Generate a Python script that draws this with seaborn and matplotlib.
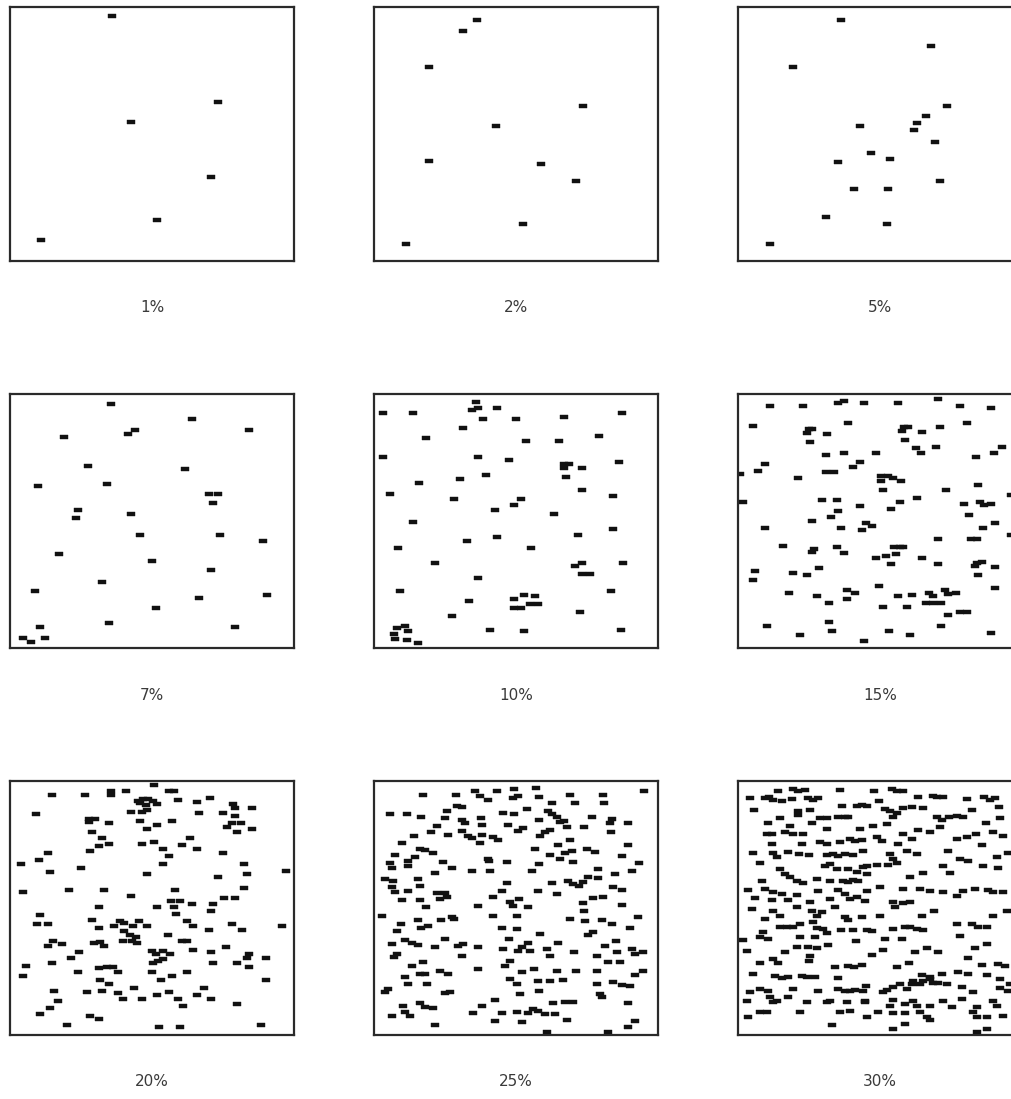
import numpy as np
import pandas as pd
import matplotlib
matplotlib.use("Agg")
import matplotlib.pyplot as plt
import seaborn as sns

# Occupied sites in a 284 x 254 field (x across, y down), one list per coverage level
sites_01 = [(102, 9), (208, 95), (121, 115), (201, 170), (147, 213), (31, 233)]

sites_02 = [(103, 13), (89, 24), (55, 60), (209, 99), (122, 119), (55, 154),
            (167, 157), (202, 174), (149, 217), (32, 237)]

sites_05 = [(103, 13), (193, 39), (55, 60), (209, 99), (188, 109), (179, 116),
            (176, 123), (122, 119), (197, 135), (133, 146), (152, 152), (100, 155),
            (202, 174), (116, 182), (150, 182), (88, 210), (149, 217), (32, 237)]

sites_07 = [(101, 10), (182, 25), (125, 36), (118, 40), (239, 36), (54, 43), (78, 72),
            (175, 75), (28, 92), (97, 90), (199, 100), (208, 100), (203, 109), (68, 116),
            (66, 124), (121, 120), (130, 141), (210, 141), (253, 147), (49, 160),
            (142, 167), (201, 176), (92, 188), (25, 197), (189, 204), (257, 201),
            (146, 214), (99, 229), (30, 233), (225, 233), (13, 244), (21, 248), (35, 244)]

sites_10 = [(9, 19), (39, 19), (102, 8), (104, 14), (98, 16), (123, 14), (109, 25),
            (142, 25), (190, 23), (248, 19), (89, 34), (52, 44), (152, 47), (185, 47),
            (225, 42), (9, 63), (104, 63), (135, 66), (190, 70), (195, 70), (190, 74),
            (208, 74), (245, 68), (112, 81), (192, 83), (86, 85), (45, 89), (16, 100),
            (208, 96), (239, 102), (80, 105), (147, 105), (140, 111), (121, 116),
            (180, 120), (39, 128), (239, 135), (123, 143), (93, 147), (204, 141),
            (24, 154), (157, 154), (61, 169), (201, 172), (208, 169), (249, 169),
            (208, 180), (216, 180), (104, 184), (26, 197), (237, 197), (95, 207),
            (140, 205), (150, 201), (161, 202), (140, 214), (147, 214), (156, 210),
            (164, 210), (206, 218), (78, 222), (31, 232), (23, 234), (20, 240),
            (34, 237), (21, 245), (33, 246), (44, 249), (116, 236), (150, 237), (247, 236)]

sites_15 = [(32, 12), (65, 12), (100, 9), (106, 7), (126, 9), (160, 9), (200, 5),
            (222, 12), (253, 14), (15, 32), (110, 29), (71, 35), (74, 35), (69, 39),
            (89, 40), (166, 33), (170, 33), (164, 37), (184, 38), (202, 33), (229, 29),
            (72, 48), (167, 46), (178, 54), (183, 59), (198, 53), (264, 53), (256, 59),
            (238, 63), (88, 61), (106, 59), (138, 59), (122, 68), (115, 73), (27, 70),
            (20, 77), (2, 80), (88, 78), (96, 78), (60, 84), (143, 82), (150, 82),
            (155, 84), (163, 87), (143, 87), (145, 96), (208, 96), (240, 91), (273, 101),
            (84, 106), (99, 106), (122, 112), (100, 117), (93, 123), (162, 108),
            (153, 115), (179, 104), (226, 110), (242, 108), (246, 111), (253, 110),
            (231, 121), (5, 108), (74, 127), (27, 134), (103, 134), (128, 129),
            (134, 132), (124, 136), (245, 134), (257, 129), (273, 141), (200, 145),
            (233, 145), (239, 145), (45, 152), (76, 155), (74, 158), (99, 153),
            (106, 159), (156, 153), (162, 153), (165, 153), (158, 160), (148, 162),
            (138, 164), (184, 164), (153, 170), (200, 170), (239, 169), (244, 168),
            (237, 172), (257, 173), (240, 181), (17, 177), (15, 186), (55, 179),
            (69, 181), (81, 174), (51, 199), (79, 202), (91, 209), (109, 196),
            (117, 199), (109, 205), (141, 192), (160, 202), (174, 201), (191, 199),
            (195, 202), (207, 196), (210, 200), (218, 199), (188, 209), (195, 209),
            (203, 209), (145, 213), (169, 213), (210, 221), (222, 218), (229, 218),
            (257, 194), (29, 232), (91, 228), (94, 237), (62, 241), (151, 237),
            (172, 241), (203, 232), (253, 239), (126, 247)]

sites_20 = [(144, 4), (42, 14), (75, 14), (101, 10), (101, 14), (116, 10), (159, 10),
            (164, 10), (168, 19), (187, 21), (200, 17), (128, 20), (133, 18), (138, 18),
            (143, 20), (147, 23), (130, 22), (136, 24), (26, 33), (121, 31), (132, 31),
            (137, 29), (189, 32), (213, 32), (223, 23), (225, 27), (242, 27), (225, 35),
            (222, 42), (231, 42), (217, 46), (227, 51), (242, 48), (79, 38), (85, 38),
            (79, 41), (99, 42), (130, 40), (147, 44), (162, 40), (137, 48), (82, 51),
            (92, 57), (89, 65), (99, 63), (80, 70), (132, 63), (144, 61), (153, 68),
            (159, 75), (172, 64), (180, 57), (187, 68), (213, 72), (38, 72), (29, 79),
            (11, 83), (40, 91), (71, 87), (153, 83), (137, 93), (208, 96), (234, 83),
            (237, 93), (276, 90), (13, 111), (59, 109), (94, 109), (121, 115), (165, 109),
            (234, 107), (214, 117), (225, 117), (161, 120), (170, 120), (182, 123),
            (203, 123), (147, 126), (89, 126), (164, 126), (166, 133), (201, 130),
            (30, 134), (27, 143), (38, 143), (82, 139), (89, 147), (104, 145), (110, 140),
            (114, 142), (123, 145), (129, 140), (137, 145), (114, 150), (120, 154),
            (126, 156), (122, 160), (127, 162), (158, 154), (172, 160), (177, 160),
            (177, 140), (183, 145), (199, 149), (222, 143), (232, 149), (272, 145),
            (38, 165), (43, 160), (52, 163), (84, 162), (90, 161), (94, 165), (113, 160),
            (142, 170), (146, 173), (153, 170), (160, 173), (183, 169), (201, 171),
            (216, 166), (239, 173), (237, 177), (256, 177), (227, 182), (239, 186),
            (203, 182), (69, 171), (61, 177), (42, 182), (16, 185), (13, 195), (68, 191),
            (89, 187), (97, 186), (103, 186), (108, 191), (90, 199), (99, 203), (143, 182),
            (148, 180), (153, 178), (142, 191), (162, 195), (177, 191), (151, 199),
            (256, 199), (44, 210), (77, 211), (92, 210), (108, 212), (113, 218),
            (124, 207), (132, 218), (147, 214), (159, 211), (168, 218), (173, 225),
            (187, 214), (194, 207), (201, 218), (227, 223), (48, 220), (40, 227),
            (30, 233), (80, 235), (89, 238), (57, 244), (149, 246), (170, 246), (251, 244)]

sites_25 = [(49, 14), (82, 14), (101, 10), (106, 15), (114, 19), (123, 10), (140, 8),
            (139, 17), (144, 15), (162, 7), (165, 16), (196, 14), (201, 22), (229, 14),
            (230, 22), (270, 10), (16, 33), (33, 33), (47, 36), (73, 30), (71, 37),
            (83, 25), (88, 26), (88, 39), (91, 42), (107, 37), (108, 44), (129, 32),
            (140, 33), (134, 44), (153, 28), (165, 39), (174, 30), (178, 22), (178, 33),
            (183, 36), (186, 41), (190, 40), (193, 46), (218, 36), (210, 46), (238, 38),
            (236, 42), (254, 42), (237, 51), (63, 45), (57, 51), (40, 55), (74, 54),
            (88, 50), (94, 55), (98, 57), (108, 54), (119, 56), (124, 59), (106, 62),
            (144, 50), (149, 47), (166, 55), (171, 51), (176, 49), (28, 62), (184, 64),
            (196, 59), (254, 64), (21, 74), (46, 68), (51, 69), (59, 72), (41, 76),
            (34, 80), (34, 85), (16, 82), (18, 87), (69, 81), (78, 87), (61, 92),
            (98, 90), (116, 90), (114, 78), (115, 80), (133, 81), (158, 90), (165, 83),
            (161, 68), (176, 74), (186, 78), (191, 72), (199, 81), (198, 70), (213, 68),
            (221, 71), (224, 88), (248, 75), (265, 82), (258, 90), (241, 93), (11, 98),
            (19, 100), (18, 106), (44, 98), (46, 105), (21, 111), (34, 110), (46, 119),
            (28, 119), (63, 112), (71, 112), (66, 118), (73, 116), (133, 102), (128, 110),
            (164, 110), (178, 102), (183, 113), (194, 100), (199, 103), (205, 105),
            (209, 101), (214, 96), (224, 97), (239, 106), (248, 109), (219, 117),
            (229, 116), (209, 122), (248, 124), (104, 125), (119, 116), (136, 121),
            (145, 118), (154, 126), (8, 135), (52, 126), (139, 125), (210, 130),
            (27, 143), (23, 150), (44, 139), (47, 147), (54, 145), (67, 139), (78, 136),
            (80, 138), (119, 135), (143, 135), (196, 138), (211, 140), (228, 139),
            (238, 143), (264, 136), (256, 147), (128, 147), (143, 148), (166, 153),
            (184, 162), (214, 154), (219, 151), (135, 158), (71, 158), (31, 159),
            (38, 162), (44, 164), (18, 163), (61, 166), (84, 165), (89, 163), (88, 175),
            (104, 166), (129, 168), (148, 166), (154, 162), (144, 170), (156, 170),
            (173, 168), (176, 175), (200, 171), (223, 175), (231, 165), (242, 160),
            (243, 171), (258, 168), (261, 173), (269, 171), (23, 173), (20, 176),
            (38, 185), (49, 181), (46, 193), (66, 190), (74, 193), (104, 188), (131, 185),
            (136, 180), (148, 191), (160, 188), (183, 190), (189, 199), (176, 200),
            (164, 200), (136, 198), (143, 203), (146, 213), (165, 210), (202, 190),
            (223, 190), (234, 181), (246, 181), (261, 194), (269, 190), (239, 201),
            (248, 204), (256, 205), (223, 203), (226, 213), (228, 216), (31, 196),
            (34, 203), (51, 193), (53, 203), (71, 212), (76, 211), (14, 208), (11, 211),
            (29, 225), (31, 231), (36, 235), (46, 222), (51, 226), (59, 227), (18, 235),
            (61, 244), (99, 232), (108, 225), (121, 219), (128, 232), (143, 231),
            (154, 232), (159, 228), (164, 230), (171, 233), (179, 222), (191, 221),
            (199, 221), (193, 239), (148, 241), (121, 240), (181, 233), (254, 222),
            (261, 240), (254, 246), (173, 251), (234, 251)]

sites_30 = [(40, 10), (55, 8), (60, 10), (67, 9), (102, 9), (136, 10), (154, 8),
            (159, 10), (165, 10), (12, 17), (27, 17), (31, 16), (35, 19), (44, 20),
            (54, 18), (70, 17), (75, 19), (80, 17), (180, 16), (195, 15), (199, 16),
            (205, 16), (229, 18), (246, 16), (252, 19), (257, 17), (141, 20), (16, 29),
            (60, 30), (60, 34), (72, 29), (104, 25), (119, 25), (124, 24), (129, 25),
            (147, 28), (152, 30), (165, 27), (174, 26), (185, 27), (234, 29), (261, 26),
            (42, 37), (52, 45), (74, 42), (82, 37), (89, 37), (100, 36), (107, 36),
            (110, 36), (155, 36), (159, 32), (199, 36), (204, 39), (211, 36), (219, 35),
            (225, 36), (248, 42), (262, 37), (202, 46), (30, 42), (89, 48), (29, 53),
            (34, 53), (47, 51), (55, 53), (65, 53), (122, 48), (135, 45), (149, 43),
            (139, 56), (165, 53), (180, 49), (192, 51), (219, 58), (229, 56), (238, 53),
            (255, 51), (265, 55), (34, 63), (64, 63), (82, 61), (89, 63), (102, 61),
            (112, 58), (117, 60), (124, 59), (144, 60), (160, 63), (174, 58), (244, 64),
            (15, 72), (35, 72), (50, 71), (61, 73), (71, 74), (89, 74), (95, 73),
            (100, 75), (107, 73), (115, 74), (125, 70), (152, 73), (155, 78), (169, 70),
            (179, 73), (210, 70), (222, 78), (230, 80), (259, 76), (270, 72), (22, 82),
            (39, 76), (42, 88), (47, 93), (52, 96), (59, 100), (65, 102), (79, 98),
            (87, 85), (92, 83), (99, 88), (110, 88), (119, 91), (125, 86), (129, 85),
            (139, 84), (150, 84), (159, 82), (129, 93), (172, 96), (185, 92), (205, 85),
            (212, 92), (245, 85), (260, 87), (24, 100), (92, 100), (105, 100), (110, 101),
            (115, 99), (120, 100), (10, 109), (27, 108), (35, 111), (44, 113), (59, 114),
            (80, 110), (100, 109), (107, 113), (112, 118), (119, 116), (127, 120),
            (129, 110), (142, 106), (165, 108), (182, 108), (192, 110), (205, 111),
            (219, 115), (225, 110), (237, 108), (250, 109), (255, 111), (265, 111),
            (17, 117), (34, 119), (50, 119), (72, 121), (92, 118), (155, 121), (165, 122),
            (172, 121), (14, 128), (35, 130), (42, 135), (59, 126), (74, 130), (79, 135),
            (84, 131), (97, 126), (107, 136), (110, 139), (124, 136), (142, 135),
            (157, 126), (184, 135), (196, 130), (255, 135), (269, 130), (27, 138),
            (42, 146), (49, 146), (55, 146), (62, 143), (75, 141), (79, 147), (85, 148),
            (89, 152), (103, 149), (115, 149), (129, 149), (134, 150), (155, 148),
            (167, 146), (172, 146), (179, 148), (185, 149), (219, 143), (234, 143),
            (240, 146), (249, 146), (25, 151), (22, 156), (30, 158), (5, 159), (62, 156),
            (77, 156), (147, 158), (164, 158), (118, 160), (222, 155), (9, 170),
            (47, 171), (59, 166), (70, 166), (79, 167), (90, 164), (72, 175), (134, 174),
            (145, 169), (177, 171), (189, 167), (200, 171), (237, 167), (249, 163),
            (22, 182), (35, 178), (40, 182), (71, 180), (97, 186), (110, 185), (116, 186),
            (124, 184), (159, 186), (171, 182), (230, 177), (244, 184), (260, 183),
            (267, 185), (15, 193), (37, 195), (44, 197), (50, 196), (64, 195), (69, 196),
            (77, 196), (100, 197), (128, 205), (184, 194), (192, 196), (204, 193),
            (220, 191), (230, 193), (249, 194), (262, 198), (272, 203), (12, 211),
            (22, 208), (30, 210), (32, 216), (39, 220), (50, 216), (55, 208), (69, 221),
            (80, 210), (89, 221), (100, 208), (107, 210), (112, 210), (117, 209),
            (125, 210), (127, 220), (145, 211), (149, 209), (155, 206), (162, 203),
            (169, 208), (174, 203), (175, 200), (182, 203), (185, 200), (192, 198),
            (195, 202), (200, 202), (209, 203), (224, 206), (235, 211), (262, 207),
            (270, 210), (9, 220), (35, 221), (62, 231), (92, 220), (109, 221), (127, 221),
            (155, 219), (152, 225), (167, 223), (175, 220), (179, 225), (192, 225),
            (205, 220), (214, 226), (224, 218), (239, 226), (255, 220), (259, 225),
            (10, 236), (22, 231), (29, 231), (102, 231), (112, 230), (129, 236),
            (140, 231), (155, 232), (167, 232), (182, 231), (189, 236), (192, 239),
            (235, 231), (239, 236), (249, 236), (265, 235), (94, 244), (155, 248),
            (167, 243), (239, 251), (249, 248)]

coverage_labels = ["1%", "2%", "5%", "7%", "10%", "15%", "20%", "25%", "30%"]
panels = [sites_01, sites_02, sites_05, sites_07, sites_10,
          sites_15, sites_20, sites_25, sites_30]

FIELD_W, FIELD_H = 284, 254

sns.set_style("white")
plt.rcParams["font.family"] = ["DejaVu Sans"]

fig = plt.figure(figsize=(10.12, 10.99), dpi=100)

# small flat rectangle used for every occupied site
site_marker = [(-1, -0.62), (1, -0.62), (1, 0.62), (-1, 0.62), (-1, -0.62)]

W, H = 1012, 1099
col_left = [10, 374, 738]
row_top = [7, 394, 781]
pw, ph = 284, 254

for i, (pts, lab) in enumerate(zip(panels, coverage_labels)):
    r, c = divmod(i, 3)
    ax = fig.add_axes([col_left[c] / W, 1 - (row_top[r] + ph) / H, pw / W, ph / H])
    df = pd.DataFrame(pts, columns=["x", "y"])
    sns.scatterplot(data=df, x="x", y="y", ax=ax, marker=site_marker, s=32,
                    color="#111111", edgecolor="#111111", linewidth=0.3, legend=False)
    ax.set_xlim(0, FIELD_W)
    ax.set_ylim(FIELD_H, 0)
    ax.set_xticks([])
    ax.set_yticks([])
    ax.set_xlabel("")
    ax.set_ylabel("")
    for sp in ax.spines.values():
        sp.set_visible(True)
        sp.set_color("#2a2a2a")
        sp.set_linewidth(1.6)
    ax.text(0.5, -47 / ph, lab, transform=ax.transAxes, ha="center", va="center",
            fontsize=11, color="#3a3a3a")

fig.savefig("out.png", dpi=100, facecolor="white")
